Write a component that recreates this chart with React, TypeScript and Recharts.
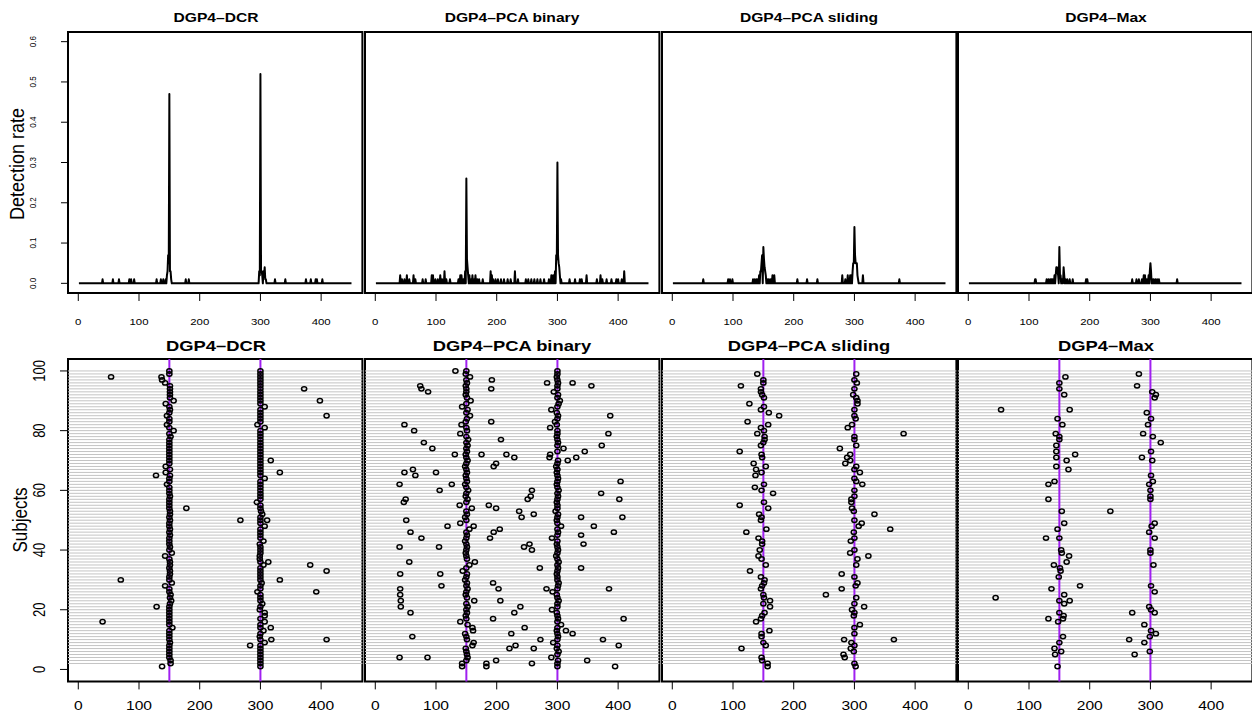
import React from 'react';
import { LineChart, Line, ScatterChart, Scatter, XAxis, YAxis, ReferenceLine, ReferenceArea } from 'recharts';

// ---------- data ----------
const titles = ['DGP4\u2013DCR', 'DGP4\u2013PCA binary', 'DGP4\u2013PCA sliding', 'DGP4\u2013Max'];
const xTicks = [0, 100, 200, 300, 400];
const rateTicks = [0, 0.1, 0.2, 0.3, 0.4, 0.5, 0.6];
const subjectTicks = [0, 20, 40, 60, 80, 100];
const trueChanges = [150, 300];
const positions = Array.from({ length: 450 }, (_, i) => i + 1);
const subjects = Array.from({ length: 99 }, (_, i) => i + 2);

// detection rate (position, rate); positions not listed have rate 0
const dcrRate: [number, number][] = [[40,0.01],[57,0.01],[67,0.01],[84,0.01],[87,0.01],[92,0.01],[129,0.01],[136,0.01],[140,0.01],[144,0.01],[146,0.02],[147,0.03],[148,0.07],[149,0.05],[150,0.47],[151,0.03],[152,0.03],[153,0.01],[177,0.01],[182,0.01],[298,0.03],[299,0.02],[300,0.52],[301,0.03],[302,0.03],[303,0.02],[305,0.03],[306,0.02],[307,0.04],[308,0.01],[309,0.01],[324,0.01],[341,0.01],[375,0.01],[383,0.01],[391,0.01],[393,0.01],[402,0.01]];
const binaryRate: [number, number][] = [[41,0.02],[44,0.01],[48,0.01],[52,0.02],[56,0.01],[63,0.02],[66,0.01],[78,0.01],[83,0.01],[93,0.02],[95,0.02],[99,0.01],[103,0.01],[107,0.02],[110,0.01],[114,0.03],[117,0.01],[123,0.01],[137,0.01],[140,0.02],[142,0.02],[145,0.01],[148,0.03],[150,0.26],[151,0.06],[152,0.04],[153,0.02],[155,0.02],[158,0.01],[160,0.02],[163,0.01],[165,0.02],[168,0.01],[171,0.01],[177,0.01],[190,0.03],[192,0.02],[194,0.01],[198,0.01],[202,0.01],[207,0.01],[212,0.01],[218,0.01],[223,0.01],[230,0.03],[235,0.01],[248,0.01],[252,0.01],[257,0.01],[262,0.01],[267,0.01],[272,0.01],[278,0.01],[286,0.01],[290,0.02],[293,0.02],[296,0.03],[298,0.07],[299,0.06],[300,0.30],[301,0.07],[302,0.05],[303,0.04],[304,0.02],[306,0.01],[320,0.01],[329,0.01],[337,0.01],[340,0.01],[348,0.02],[365,0.01],[371,0.02],[374,0.01],[381,0.01],[389,0.01],[397,0.01],[400,0.01],[406,0.01],[410,0.03]];
const slidingRate: [number, number][] = [[51,0.01],[92,0.01],[95,0.01],[99,0.01],[133,0.01],[136,0.01],[139,0.01],[141,0.01],[143,0.02],[145,0.03],[146,0.03],[147,0.05],[148,0.07],[150,0.09],[151,0.06],[152,0.04],[153,0.03],[154,0.02],[156,0.01],[158,0.01],[161,0.01],[163,0.01],[165,0.02],[168,0.02],[206,0.01],[222,0.01],[239,0.01],[280,0.02],[285,0.01],[289,0.02],[291,0.01],[293,0.02],[295,0.02],[297,0.03],[298,0.05],[299,0.05],[300,0.14],[301,0.07],[302,0.05],[303,0.05],[304,0.05],[305,0.02],[306,0.01],[314,0.02],[374,0.01]];
const maxRate: [number, number][] = [[110,0.01],[111,0.01],[129,0.01],[132,0.01],[135,0.01],[137,0.01],[139,0.01],[142,0.02],[144,0.02],[145,0.04],[146,0.04],[147,0.03],[148,0.02],[150,0.09],[151,0.02],[152,0.02],[154,0.01],[157,0.04],[158,0.02],[160,0.01],[163,0.01],[167,0.01],[172,0.01],[194,0.01],[196,0.01],[270,0.01],[277,0.01],[281,0.01],[286,0.01],[289,0.02],[291,0.02],[294,0.01],[297,0.02],[299,0.03],[300,0.05],[301,0.03],[303,0.01],[305,0.01],[308,0.01],[311,0.01],[314,0.01],[344,0.01]];

// detected change points per subject (index = subject - 1)
const dcrNear150 = [138,152,152,150,150,150,150,150,151,150,150,150,150,155,150,150,150,150,150,150,150,151,153,151,152,150,150,143,154,150,150,151,151,150,151,151,150,143,154,150,151,150,150,150,151,150,151,150,150,151,150,151,151,150,150,150,150,151,150,150,150,146,150,150,151,144,151,144,150,150,150,150,150,150,150,150,150,152,150,157,150,146,150,150,146,150,151,150,144,157,151,151,151,151,151,143,138,137,150,150];
const dcrNear300 = [300,300,300,300,300,300,300,300,307,300,299,300,305,300,300,307,300,307,307,299,300,303,300,300,300,295,300,300,302,300,300,300,300,300,305,300,299,299,300,300,300,299,305,300,300,300,300,307,300,300,300,303,301,300,300,294,300,300,300,300,300,300,300,307,300,300,300,300,300,300,300,300,300,300,300,300,300,300,300,300,307,295,300,300,300,300,300,307,300,300,300,300,300,300,300,300,300,300,300,300];
const dcrOther: [number, number][] = [[54,98],[129,21],[40,16],[70,30],[128,65],[178,54],[372,94],[398,90],[409,85],[317,70],[332,66],[267,50],[311,50],[313,36],[382,35],[409,33],[332,30],[392,26],[317,14],[318,10],[409,10],[283,8]];

const binaryNear150 = [143,143,150,152,151,150,149,160,162,151,150,148,161,160,152,140,150,149,151,150,152,150,163,151,149,150,152,150,151,148,150,151,144,150,155,164,151,150,149,150,151,150,148,150,151,150,155,162,140,150,148,151,150,159,139,150,152,149,150,153,150,148,151,150,149,151,150,148,150,152,150,149,151,150,152,150,153,150,140,151,150,142,149,151,156,150,152,143,150,157,151,149,150,150,149,151,150,156,149,150];
const binaryNear300 = [300,300,301,290,300,302,299,300,293,300,301,300,299,300,306,300,301,300,299,291,300,300,302,300,299,292,300,301,302,300,300,299,300,301,300,302,300,298,300,301,300,299,300,291,300,301,300,306,300,299,300,301,297,300,300,299,300,301,300,302,300,299,300,301,300,299,300,298,300,301,287,288,300,310,300,301,300,299,300,300,288,299,296,300,301,299,290,300,302,304,300,301,294,300,300,301,300,299,300,300];
const binaryOther: [number, number][] = [[132,100],[192,97],[191,94],[283,96],[325,96],[356,95],[74,95],[76,94],[87,93],[387,85],[191,83],[48,82],[64,80],[384,79],[207,77],[80,76],[94,74],[373,75],[345,73],[131,72],[175,72],[216,72],[229,71],[317,70],[331,71],[199,69],[195,68],[62,67],[48,66],[66,65],[100,66],[40,62],[126,62],[404,63],[106,60],[258,60],[372,59],[256,58],[251,57],[50,57],[47,56],[402,57],[187,55],[199,54],[237,53],[241,51],[261,52],[51,50],[339,51],[407,51],[119,48],[360,48],[58,46],[76,44],[205,47],[195,46],[189,44],[393,46],[339,45],[343,42],[40,41],[105,41],[245,41],[254,42],[258,40],[56,36],[271,34],[339,34],[41,32],[107,32],[109,28],[194,29],[203,27],[41,27],[41,25],[42,23],[42,21],[282,27],[385,27],[206,23],[58,19],[239,21],[229,19],[194,17],[409,17],[246,14],[314,13],[325,12],[224,12],[61,11],[272,10],[375,10],[231,8],[221,7],[261,7],[401,8],[40,4],[86,4],[199,3],[349,3],[183,2],[183,1],[258,2],[395,1]];

const slidingPoints: [number, number][] = [[140,99],[150,97],[150,96],[113,95],[146,94],[146,93],[148,92],[151,91],[127,89],[151,88],[146,87],[159,86],[176,85],[124,83],[158,82],[146,81],[151,80],[140,79],[152,78],[152,77],[150,76],[146,75],[111,73],[147,72],[148,71],[134,69],[154,68],[138,67],[147,66],[137,65],[151,62],[136,61],[147,60],[166,59],[151,56],[111,55],[158,54],[143,52],[147,51],[146,50],[155,47],[122,46],[142,44],[148,43],[148,42],[144,40],[142,38],[147,37],[154,35],[128,33],[146,31],[152,30],[151,29],[148,28],[146,27],[150,25],[151,24],[161,23],[150,22],[161,21],[152,19],[148,18],[146,17],[138,16],[160,13],[147,12],[147,11],[150,9],[154,8],[114,7],[147,4],[148,3],[157,2],[157,1],
  [303,99],[300,97],[304,96],[300,94],[298,92],[303,91],[305,90],[305,89],[300,87],[300,85],[302,84],[296,82],[289,81],[381,79],[300,78],[300,77],[303,75],[276,74],[293,72],[288,71],[293,70],[285,69],[303,68],[300,67],[309,66],[303,63],[300,64],[313,62],[300,60],[300,58],[295,57],[295,56],[296,54],[299,53],[333,52],[300,50],[312,49],[307,48],[359,47],[299,46],[300,44],[294,43],[300,40],[293,39],[323,38],[305,37],[303,35],[279,32],[300,31],[305,29],[302,28],[279,27],[253,25],[303,24],[300,22],[316,21],[296,20],[300,19],[299,18],[309,15],[300,14],[300,12],[283,10],[365,10],[295,9],[300,8],[294,7],[299,6],[282,5],[284,4],[300,2],[302,1]];

const maxPoints: [number, number][] = [[160,98],[281,99],[150,96],[150,94],[278,95],[303,93],[309,92],[307,91],[158,92],[54,87],[167,87],[294,86],[147,84],[301,84],[155,82],[296,82],[144,79],[150,78],[150,77],[288,79],[304,78],[317,76],[145,75],[145,73],[301,73],[176,72],[145,71],[162,70],[286,71],[303,70],[145,68],[165,67],[301,65],[142,63],[132,62],[304,63],[298,62],[300,60],[300,58],[300,57],[132,57],[154,53],[234,53],[158,49],[307,49],[302,48],[147,47],[298,46],[128,44],[150,44],[307,44],[153,40],[154,39],[300,40],[300,39],[166,38],[162,36],[141,35],[151,34],[152,33],[305,35],[149,31],[184,28],[137,27],[301,28],[307,26],[45,24],[158,25],[150,23],[167,23],[158,22],[298,21],[301,20],[150,19],[157,18],[156,17],[132,17],[148,16],[270,19],[307,19],[290,15],[301,13],[309,12],[299,11],[156,11],[265,10],[150,9],[290,9],[142,7],[153,6],[143,5],[299,6],[274,5],[147,1]];

// ---------- layout ----------
const FONT = '"Liberation Sans", Arial, Helvetica, sans-serif';
const BOX_LEFT0 = 68.3;
const STRIDE = 296.7;
const BOX_W = 294.4;
const TOP_BOX_TOP = 32.3;
const TOP_BOX_H = 261;
const BOT_BOX_TOP = 359.3;
const BOT_BOX_H = 322.4;
const X_DOMAIN: [number, number] = [-16.96, 467.96];
const RATE_DOMAIN: [number, number] = [-0.024, 0.624];
const SUBJ_DOMAIN: [number, number] = [-4, 104];
const LM = 60, RM = 5, TM = 5, BM = 44;
const SX = 1.2; // horizontal stretch of the original raster

const toSeries = (spikes: [number, number][]) => {
  const m = new Map(spikes);
  return positions.map((p) => ({ pos: p, rate: m.get(p) ?? 0 }));
};
const toPts = (pairs: [number, number][]) => pairs.map(([x, y]) => ({ x, y }));
const colPts = (arr: number[]) => arr.map((x, i) => ({ x, y: i + 1 }));

const topSeries = [toSeries(dcrRate), toSeries(binaryRate), toSeries(slidingRate), toSeries(maxRate)];
const botPoints = [
  [...colPts(dcrNear150), ...colPts(dcrNear300), ...toPts(dcrOther)],
  [...colPts(binaryNear150), ...colPts(binaryNear300), ...toPts(binaryOther)],
  toPts(slidingPoints),
  toPts(maxPoints),
];

const makeXTick = (fontSize: number, dy: number) => (props: any) => {
  const { x, y, payload } = props;
  return (
    <text transform={`translate(${x},${y + dy}) scale(${SX},1)`} textAnchor="middle" dominantBaseline="central" fontSize={fontSize} fontFamily={FONT} fill="#000">
      {payload.value}
    </text>
  );
};
const makeYTick = (fontSize: number, cx: number, fmt: (v: number) => string) => (props: any) => {
  const { y, payload } = props;
  return (
    <text transform={`translate(${cx},${y}) rotate(-90) scale(1,${SX})`} textAnchor="middle" dominantBaseline="central" fontSize={fontSize} fontFamily={FONT} fill="#000">
      {fmt(payload.value)}
    </text>
  );
};

const Circle = (props: any) => {
  const { cx, cy } = props;
  if (cx == null || cy == null) return null;
  return <ellipse cx={cx} cy={cy} rx={2.6} ry={2.2} fill="none" stroke="#000" strokeWidth={1.5} />;
};

function Title({ text, cx, cy, size }: { text: string; cx: number; cy: number; size: number }) {
  return (
    <div style={{ position: 'absolute', left: cx, top: cy, transform: `translate(-50%,-50%) scaleX(${SX})`, fontFamily: FONT, fontWeight: 'bold', fontSize: size, whiteSpace: 'nowrap', lineHeight: 1 }}>
      {text}
    </div>
  );
}

function TopPanel({ k }: { k: number }) {
  const boxLeft = BOX_LEFT0 + k * STRIDE;
  const showY = k === 0;
  return (
    <div style={{ position: 'absolute', left: boxLeft - LM, top: TOP_BOX_TOP - TM }}>
      <LineChart width={LM + BOX_W + RM} height={TM + TOP_BOX_H + BM} data={topSeries[k]} margin={{ top: TM, right: RM, bottom: 0, left: 0 }}>
        <XAxis type="number" dataKey="pos" domain={X_DOMAIN} allowDataOverflow ticks={xTicks} interval={0} axisLine={false} tickLine={{ stroke: '#000', strokeWidth: 1 }} tickSize={8} height={BM} tick={makeXTick(9.5, 19)} />
        <YAxis type="number" domain={RATE_DOMAIN} allowDataOverflow ticks={rateTicks} interval={0} width={LM} axisLine={false}
          tickLine={showY ? { stroke: '#000', strokeWidth: 1 } : false} tickSize={7}
          tick={showY ? makeYTick(8, 25, (v) => v.toFixed(1)) : false} />
        <Line type="linear" dataKey="rate" stroke="#000" strokeWidth={2} dot={false} isAnimationActive={false} strokeLinejoin="round" />
        <ReferenceArea x1={X_DOMAIN[0]} x2={X_DOMAIN[1]} y1={RATE_DOMAIN[0]} y2={RATE_DOMAIN[1]} fill="none" fillOpacity={0} stroke="#000" strokeWidth={2} ifOverflow="visible" />
      </LineChart>
    </div>
  );
}

function BottomPanel({ k }: { k: number }) {
  const boxLeft = BOX_LEFT0 + k * STRIDE;
  const showY = k === 0;
  return (
    <div style={{ position: 'absolute', left: boxLeft - LM, top: BOT_BOX_TOP - TM }}>
      <ScatterChart width={LM + BOX_W + RM} height={TM + BOT_BOX_H + BM} margin={{ top: TM, right: RM, bottom: 0, left: 0 }}>
        <XAxis type="number" dataKey="x" domain={X_DOMAIN} allowDataOverflow ticks={xTicks} interval={0} axisLine={false} tickLine={{ stroke: '#000', strokeWidth: 1 }} tickSize={8} height={BM} tick={makeXTick(13, 14)} />
        <YAxis type="number" dataKey="y" domain={SUBJ_DOMAIN} allowDataOverflow ticks={subjectTicks} interval={0} width={LM} axisLine={false}
          tickLine={showY ? { stroke: '#000', strokeWidth: 1 } : false} tickSize={8}
          tick={showY ? makeYTick(13, 32, (v) => String(v)) : false} />
        {subjects.map((s) => (
          <ReferenceLine key={s} y={s} stroke="#c4c4c4" strokeWidth={1} />
        ))}
        <Scatter data={botPoints[k]} shape={<Circle />} isAnimationActive={false} />
        {trueChanges.map((c) => (
          <ReferenceLine key={'c' + c} x={c} stroke="#A020F0" strokeWidth={2} />
        ))}
        <ReferenceArea x1={X_DOMAIN[0]} x2={X_DOMAIN[1]} y1={SUBJ_DOMAIN[0]} y2={SUBJ_DOMAIN[1]} fill="none" fillOpacity={0} stroke="#000" strokeWidth={2} ifOverflow="visible" />
      </ScatterChart>
    </div>
  );
}

export default function App() {
  return (
    <div style={{ position: 'absolute', left: 0, top: 0, width: 1252, height: 717, overflow: 'hidden', background: '#fff' }}>
      {[0, 1, 2, 3].map((k) => <TopPanel key={'t' + k} k={k} />)}
      {[0, 1, 2, 3].map((k) => <BottomPanel key={'b' + k} k={k} />)}
      {titles.map((t, k) => (
        <Title key={'tt' + k} text={t} cx={BOX_LEFT0 + k * STRIDE + BOX_W / 2} cy={16.7} size={13} />
      ))}
      {titles.map((t, k) => (
        <Title key={'bt' + k} text={t} cx={BOX_LEFT0 + k * STRIDE + BOX_W / 2} cy={345.7} size={15.3} />
      ))}
      <div style={{ position: 'absolute', left: 17, top: 164, transform: `translate(-50%,-50%) rotate(-90deg) scaleY(1.15)`, fontFamily: FONT, fontSize: 18, whiteSpace: 'nowrap', lineHeight: 1 }}>
        Detection rate
      </div>
      <div style={{ position: 'absolute', left: 20, top: 520, transform: `translate(-50%,-50%) rotate(-90deg) scaleY(1.2)`, fontFamily: FONT, fontSize: 17, whiteSpace: 'nowrap', lineHeight: 1 }}>
        Subjects
      </div>
    </div>
  );
}
